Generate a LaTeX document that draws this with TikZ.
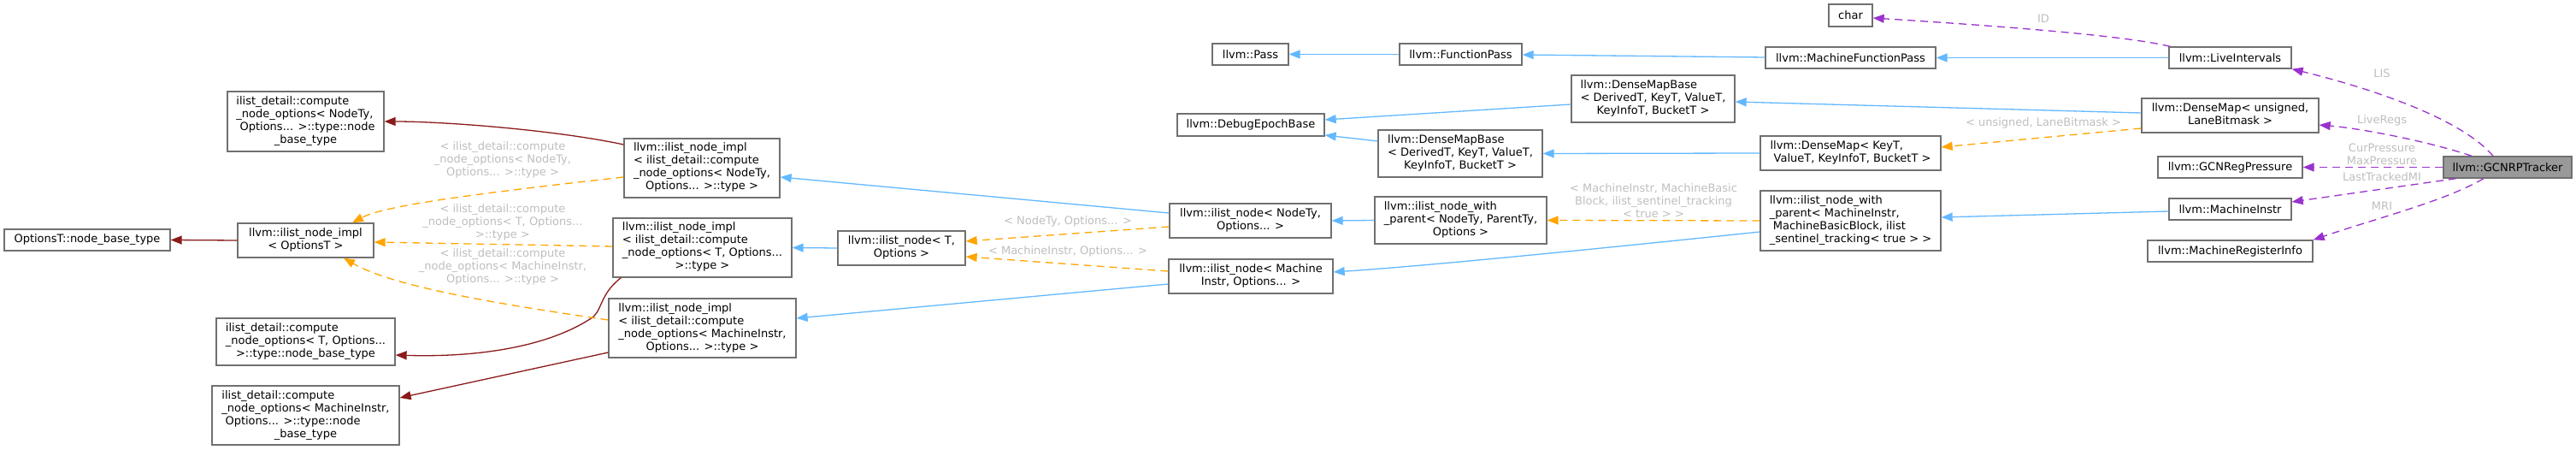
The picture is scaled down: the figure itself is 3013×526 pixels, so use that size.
\documentclass[tikz,border=0pt]{standalone}
\usepackage{fontspec}
\setmainfont{DejaVu Sans}
\usetikzlibrary{arrows.meta}
\definecolor{cblue}{HTML}{63B8FF}
\definecolor{cred}{HTML}{8B1A1A}
\definecolor{corange}{HTML}{FFA500}
\definecolor{cpurple}{HTML}{9A32CD}
\definecolor{clabel}{HTML}{BEBEBE}
\definecolor{cborder}{HTML}{707070}
\definecolor{cfill}{HTML}{999999}
\newcommand\mlines[2]{\begin{tabular}{@{}l@{}}#1\\\multicolumn{1}{@{}c@{}}{#2}\end{tabular}}
\begin{document}
\begin{tikzpicture}[x=1pt,y=-1pt,
  box/.style={draw=cborder, line width=1.3pt, fill=white, inner sep=0pt, font=\fontsize{13}{15}\selectfont},
  cur/.style={box, fill=cfill},
  lbl/.style={text=clabel, align=center, inner sep=0pt, font=\fontsize{13}{15}\selectfont},
  tip/.style={-{Triangle[length=13pt,width=10pt]}},
  pub/.style={draw=cblue, line width=1.3pt, tip},
  priv/.style={draw=cred, line width=1.3pt, tip},
  tmpl/.style={draw=corange, line width=1.3pt, dash pattern=on 9pt off 6pt, tip},
  usage/.style={draw=cpurple, line width=1.3pt, dash pattern=on 9pt off 6pt, tip},
]
\useasboundingbox (0,0) rectangle (3013,526);

% ---- nodes ----
\node[box, minimum width=194pt, minimum height=25pt] (nbt) at (102,280.5) {OptionsT::node\_base\_type};
\node[box, minimum width=159pt, minimum height=40pt] (implO) at (357.5,281) {\mlines{llvm::ilist\_node\_impl}{< OptionsT >}};
\node[box, minimum width=183pt, minimum height=70pt] (cnN) at (357.5,142) {\mlines{ilist\_detail::compute\\\_node\_options< NodeTy,\\\ Options... >::type::node}{\_base\_type}};
\node[box, minimum width=209pt, minimum height=55pt] (cnT) at (357.5,399.5) {\mlines{ilist\_detail::compute\\\_node\_options< T, Options...}{>::type::node\_base\_type}};
\node[box, minimum width=219pt, minimum height=69pt] (cnM) at (357.5,485.5) {\mlines{ilist\_detail::compute\\\_node\_options< MachineInstr,\\\ Options... >::type::node}{\_base\_type}};

\node[box, minimum width=182pt, minimum height=69pt] (implN) at (821,196.5) {\mlines{llvm::ilist\_node\_impl\\< ilist\_detail::compute\\\_node\_options< NodeTy,}{Options... >::type >}};
\node[box, minimum width=209pt, minimum height=69pt] (implT) at (821.5,289.5) {\mlines{llvm::ilist\_node\_impl\\< ilist\_detail::compute\\\_node\_options< T, Options...}{>::type >}};
\node[box, minimum width=219pt, minimum height=69pt] (implM) at (821.5,383.5) {\mlines{llvm::ilist\_node\_impl\\< ilist\_detail::compute\\\_node\_options< MachineInstr,}{Options... >::type >}};

\node[box, minimum width=149pt, minimum height=40pt] (inT) at (1054.5,290) {\mlines{llvm::ilist\_node< T,}{Options >}};
\node[box, minimum width=189pt, minimum height=40pt] (inN) at (1462.5,258) {\mlines{llvm::ilist\_node< NodeTy,}{Options... >}};
\node[box, minimum width=192pt, minimum height=40pt] (inM) at (1463,323) {\mlines{llvm::ilist\_node< Machine}{Instr, Options... >}};
\node[box, minimum width=89pt, minimum height=25pt] (pass) at (1462.5,63.5) {llvm::Pass};
\node[box, minimum width=172pt, minimum height=26pt] (deb) at (1463,146) {llvm::DebugEpochBase};

\node[box, minimum width=143pt, minimum height=25pt] (fp) at (1708.5,63.5) {llvm::FunctionPass};
\node[box, minimum width=192pt, minimum height=55pt] (dmbB) at (1708,179.5) {\mlines{llvm::DenseMapBase\\< DerivedT, KeyT, ValueT,}{KeyInfoT, BucketT >}};
\node[box, minimum width=201pt, minimum height=55pt] (inpN) at (1708.5,257.5) {\mlines{llvm::ilist\_node\_with\\\_parent< NodeTy, ParentTy,}{Options >}};
\node[box, minimum width=191pt, minimum height=55pt] (dmbA) at (1933.5,115.5) {\mlines{llvm::DenseMapBase\\< DerivedT, KeyT, ValueT,}{KeyInfoT, BucketT >}};

\node[box, minimum width=199pt, minimum height=25pt] (mfp) at (2164.5,67.5) {llvm::MachineFunctionPass};
\node[box, minimum width=51pt, minimum height=26pt] (char) at (2164.5,18) {char};
\node[box, minimum width=211pt, minimum height=40pt] (dmK) at (2164.5,179) {\mlines{llvm::DenseMap< KeyT,}{\ ValueT, KeyInfoT, BucketT >}};
\node[box, minimum width=211pt, minimum height=70pt] (inpM) at (2164.5,258) {\mlines{llvm::ilist\_node\_with\\\_parent< MachineInstr,\\\ MachineBasicBlock, ilist}{\_sentinel\_tracking< true > >}};

\node[box, minimum width=143pt, minimum height=25pt] (li) at (2608.5,67.5) {llvm::LiveIntervals};
\node[box, minimum width=207pt, minimum height=40pt] (dmU) at (2608.5,135) {\mlines{llvm::DenseMap< unsigned,}{LaneBitmask >}};
\node[box, minimum width=169pt, minimum height=25pt] (grp) at (2608.5,195.5) {llvm::GCNRegPressure};
\node[box, minimum width=143pt, minimum height=25pt] (mi) at (2608.5,244.5) {llvm::MachineInstr};
\node[box, minimum width=193pt, minimum height=25pt] (mri) at (2608.5,293.5) {llvm::MachineRegisterInfo};
\node[cur, minimum width=150pt, minimum height=25pt] (trk) at (2933,195.5) {llvm::GCNRPTracker};

% ---- private (dark red) ----
\draw[priv] (implO.west) -- (nbt.east);
\draw[priv] ([yshift=27.5pt]implN.west) .. controls (650,152) and (520,142) .. (cnN.east);
\draw[priv] ([xshift=10pt]implT.south west) .. controls (700,345) and (705,365) .. (690,373) .. controls (640,405) and (560,418) .. ([yshift=-15.5pt]cnT.east);
\draw[priv] ([yshift=-28.5pt]implM.west) -- ([yshift=20.5pt]cnM.east);

% ---- template (orange) ----
\draw[tmpl] ([yshift=-10.5pt]implN.west) .. controls (560,226) and (450,240) .. ([xshift=54.5pt]implO.north);
\draw[tmpl] ([yshift=1.5pt]implT.west) -- ([yshift=-2pt]implO.east);
\draw[tmpl] ([yshift=9.5pt]implM.west) .. controls (580,355) and (460,335) .. ([xshift=44.5pt]implO.south);
\draw[tmpl] ([yshift=-7pt]inN.west) -- ([yshift=8pt]inT.east);
\draw[tmpl] ([yshift=6pt]inM.west) -- ([yshift=-10pt]inT.east);
\draw[tmpl] ([yshift=-15pt]dmU.west) -- ([yshift=7pt]dmK.east);
\draw[tmpl] (inpM.west) -- (inpN.east);

% ---- public (blue) ----
\draw[pub] ([yshift=9pt]inN.west) -- ([yshift=-10.5pt]implN.east);
\draw[pub] (inT.west) -- (implT.east);
\draw[pub] ([yshift=-9pt]inM.west) -- ([yshift=11.5pt]implM.east);
\draw[pub] (fp.west) -- (pass.east);
\draw[pub] ([yshift=0.5pt]mfp.west) -- ([yshift=-0.5pt]fp.east);
\draw[pub] ([yshift=-6.5pt]dmbA.west) -- ([yshift=6pt]deb.east);
\draw[pub] ([yshift=14.5pt]dmbB.west) -- ([yshift=-12pt]deb.east);
\draw[pub] (dmK.west) -- (dmbB.east);
\draw[pub] ([yshift=3pt]dmU.west) -- ([yshift=-3.5pt]dmbA.east);
\draw[pub] (inpN.west) -- (inN.east);
\draw[pub] ([yshift=-13pt]inpM.west) .. controls (1800,298) and (1650,312) .. ([yshift=5pt]inM.east);
\draw[pub] ([yshift=-2.5pt]mi.west) -- ([yshift=4pt]inpM.east);
\draw[pub] (li.west) -- (mfp.east);

% ---- usage (purple) ----
\draw[usage] ([xshift=2pt]li.north west) .. controls (2480,40) and (2300,28) .. ([yshift=-3pt]char.east);
\draw[usage] ([xshift=-17pt]trk.north) .. controls (2880,140) and (2780,105) .. (li.south east);
\draw[usage] ([xshift=-42pt]trk.north) .. controls (2840,165) and (2760,150) .. ([yshift=-11pt]dmU.east);
\draw[usage] (trk.west) -- (grp.east);
\draw[usage] ([xshift=-60pt]trk.south) -- ([yshift=8.5pt]mi.east);
\draw[usage] ([xshift=-28pt]trk.south) .. controls (2860,235) and (2780,255) .. (mri.north east);

% ---- edge labels ----
\node[lbl] (l1) at (588,187) {< ilist\_detail::compute\\\_node\_options< NodeTy,\\Options... >::type >};
\node[lbl] (l2) at (588,260) {< ilist\_detail::compute\\\_node\_options< T, Options...\\>::type >};
\node[lbl] (l3) at (588,312) {< ilist\_detail::compute\\\_node\_options< MachineInstr,\\Options... >::type >};
\node[lbl] (l4) at (1249,259) {< NodeTy, Options... >};
\node[lbl] (l5) at (1249,294) {< MachineInstr, Options... >};
\node[lbl] (l6) at (1934,235) {< MachineInstr, MachineBasic\\Block, ilist\_sentinel\_tracking\\< true > >};
\node[lbl] (l7) at (2390,144) {< unsigned, LaneBitmask >};
\node[lbl] (l8) at (2390,22) {ID};
\node[lbl] (l9) at (2786,86) {LIS};
\node[lbl] (l10) at (2786,141) {LiveRegs};
\node[lbl] (l11) at (2786,180) {CurPressure\\MaxPressure};
\node[lbl] (l12) at (2786,207) {LastTrackedMI};
\node[lbl] (l13) at (2786,241) {MRI};
\end{tikzpicture}
\end{document}
